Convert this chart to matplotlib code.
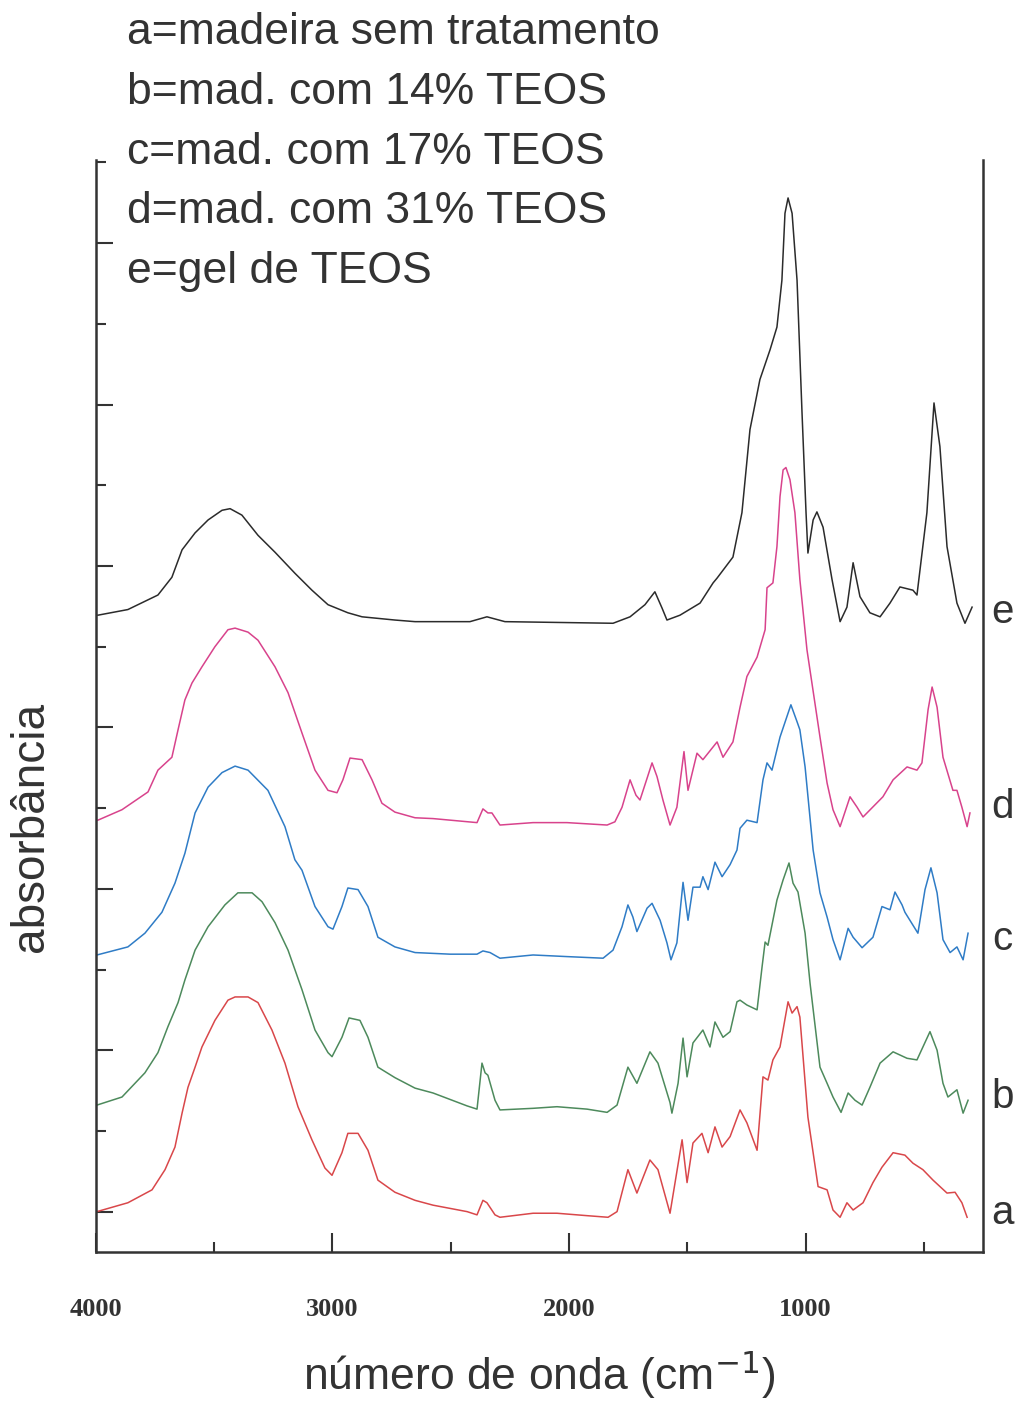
import numpy as np
import matplotlib
matplotlib.use('Agg')
import matplotlib.pyplot as plt
from matplotlib.ticker import FixedLocator
import matplotlib.transforms as mtransforms

# --- espectros FTIR (numero de onda em cm-1, absorbancia deslocada) ---

wn_e = [3992, 3865, 3738, 3679, 3636, 3581, 3526, 3467, 3433, 3383, 3315, 3243, 3159, 3087,
        3019, 2935, 2875, 2736, 2651, 2419, 2347, 2271, 1814, 1742, 1679, 1637, 1607, 1586,
        1531, 1446, 1391, 1374, 1307, 1269, 1235, 1193, 1150, 1121, 1100, 1087, 1074, 1057,
        1036, 1015, 998, 990, 968, 952, 926, 888, 854, 825, 799, 770, 728, 685, 643, 601,
        546, 529, 487, 457, 432, 402, 360, 326, 296]
ab_e = [7.89, 7.96, 8.14, 8.36, 8.70, 8.91, 9.07, 9.19, 9.21, 9.13, 8.88, 8.67, 8.41, 8.20,
        8.02, 7.92, 7.87, 7.83, 7.81, 7.81, 7.87, 7.81, 7.79, 7.87, 8.02, 8.18, 7.98, 7.83,
        7.89, 8.04, 8.29, 8.35, 8.61, 9.16, 10.19, 10.81, 11.18, 11.46, 12.04, 12.87, 13.06, 12.87,
        12.04, 10.40, 9.16, 8.66, 9.07, 9.17, 8.98, 8.33, 7.81, 7.99, 8.54, 8.12, 7.92, 7.87, 8.04, 8.24,
        8.20, 8.14, 9.16, 10.52, 9.98, 8.74, 8.04, 7.79, 7.99]

wn_d = [3992, 3890, 3780, 3738, 3679, 3653, 3624, 3594, 3552, 3497, 3442, 3412, 3357, 3315,
        3243, 3188, 3129, 3074, 3019, 2981, 2956, 2926, 2875, 2833, 2791, 2736, 2651, 2575,
        2389, 2364, 2343, 2326, 2292, 2152, 2009, 1839, 1806, 1776, 1742, 1717, 1700, 1670,
        1649, 1628, 1603, 1573, 1544, 1514, 1497, 1459, 1434, 1374, 1349, 1307, 1277, 1248,
        1205, 1171, 1163, 1138, 1121, 1108, 1095, 1083, 1066, 1045, 1024, 994, 939, 909, 884,
        854, 812, 782, 757, 673, 630, 571, 529, 508, 482, 465, 444, 419, 377, 360, 339, 317, 305]
ab_d = [5.35, 5.48, 5.70, 5.97, 6.13, 6.47, 6.84, 7.05, 7.25, 7.50, 7.71, 7.73, 7.68, 7.58,
        7.25, 6.93, 6.43, 5.97, 5.72, 5.69, 5.85, 6.12, 6.10, 5.85, 5.56, 5.45, 5.38, 5.37,
        5.32, 5.49, 5.44, 5.44, 5.29, 5.32, 5.32, 5.29, 5.33, 5.51, 5.85, 5.66, 5.60, 5.87,
        6.06, 5.89, 5.60, 5.29, 5.51, 6.20, 5.72, 6.18, 6.10, 6.32, 6.13, 6.32, 6.75, 7.13,
        7.37, 7.71, 8.23, 8.29, 8.74, 9.36, 9.69, 9.72, 9.57, 9.16, 8.33, 7.46, 6.38, 5.81, 5.48,
        5.27, 5.64, 5.51, 5.39, 5.64, 5.85, 6.01, 5.97, 6.06, 6.72, 7.00, 6.75, 6.13, 5.72, 5.72, 5.51, 5.27, 5.44]

wn_c = [3996, 3865, 3793, 3721, 3666, 3624, 3581, 3526, 3467, 3412, 3357, 3273, 3201, 3159,
        3129, 3074, 3019, 2998, 2960, 2935, 2892, 2850, 2808, 2736, 2651, 2503, 2389, 2364,
        2334, 2292, 2152, 2009, 1856, 1814, 1776, 1751, 1730, 1713, 1670, 1649, 1615, 1586,
        1569, 1544, 1518, 1497, 1476, 1446, 1434, 1412, 1383, 1353, 1319, 1290, 1277, 1248,
        1205, 1180, 1163, 1142, 1108, 1062, 1036, 1024, 1002, 968, 939, 909, 884, 854, 820,
        799, 761, 715, 677, 643, 622, 592, 580, 525, 495, 470, 444, 419, 389, 360, 334, 313]
ab_c = [3.68, 3.78, 3.95, 4.21, 4.57, 4.94, 5.44, 5.76, 5.94, 6.02, 5.97, 5.72, 5.27, 4.86,
        4.73, 4.28, 4.03, 4.00, 4.28, 4.51, 4.49, 4.28, 3.90, 3.78, 3.71, 3.69, 3.69, 3.73,
        3.71, 3.64, 3.68, 3.66, 3.64, 3.74, 4.03, 4.30, 4.15, 3.97, 4.26, 4.32, 4.11, 3.83,
        3.62, 3.83, 4.58, 4.11, 4.52, 4.52, 4.65, 4.49, 4.83, 4.65, 4.80, 4.98, 5.25, 5.35,
        5.32, 5.85, 6.06, 5.97, 6.38, 6.78, 6.57, 6.47, 6.01, 4.98, 4.45, 4.15, 3.87, 3.62, 4.01,
        3.90, 3.77, 3.90, 4.28, 4.24, 4.46, 4.30, 4.21, 3.95, 4.49, 4.76, 4.45, 3.87, 3.71, 3.78, 3.62, 3.95]

wn_b = [3996, 3890, 3793, 3738, 3696, 3653, 3624, 3581, 3526, 3455, 3400, 3340, 3298, 3243,
        3188, 3129, 3074, 3019, 3002, 2960, 2930, 2884, 2850, 2808, 2736, 2651, 2575, 2431,
        2389, 2368, 2355, 2343, 2313, 2292, 2152, 2051, 1924, 1839, 1797, 1751, 1713, 1658,
        1624, 1573, 1565, 1539, 1518, 1501, 1476, 1434, 1404, 1383, 1349, 1319, 1290, 1277,
        1248, 1205, 1184, 1171, 1159, 1121, 1095, 1070, 1053, 1032, 1002, 981, 939, 909, 884,
        850, 820, 791, 761, 728, 685, 630, 571, 529, 474, 444, 419, 398, 360, 334, 313]
ab_b = [1.82, 1.92, 2.22, 2.47, 2.79, 3.09, 3.37, 3.74, 4.03, 4.30, 4.45, 4.45, 4.34, 4.08,
        3.74, 3.25, 2.75, 2.47, 2.42, 2.66, 2.90, 2.87, 2.66, 2.29, 2.16, 2.03, 1.97, 1.81,
        1.77, 2.34, 2.22, 2.19, 1.88, 1.76, 1.78, 1.80, 1.77, 1.73, 1.82, 2.29, 2.09, 2.48,
        2.34, 1.85, 1.72, 2.09, 2.65, 2.17, 2.59, 2.75, 2.54, 2.85, 2.66, 2.73, 3.10, 3.12,
        3.06, 3.00, 3.53, 3.84, 3.80, 4.36, 4.61, 4.82, 4.57, 4.46, 3.95, 3.33, 2.29, 2.09, 1.92,
        1.73, 1.97, 1.88, 1.82, 2.04, 2.34, 2.48, 2.40, 2.38, 2.73, 2.50, 2.09, 1.92, 2.01, 1.72, 1.88]

wn_a = [3996, 3865, 3763, 3708, 3666, 3636, 3611, 3581, 3552, 3497, 3442, 3412, 3357, 3315,
        3256, 3201, 3146, 3087, 3032, 3002, 2960, 2935, 2892, 2850, 2808, 2736, 2651, 2575,
        2431, 2389, 2364, 2347, 2313, 2292, 2152, 2051, 1924, 1835, 1797, 1751, 1713, 1658,
        1624, 1573, 1522, 1501, 1476, 1438, 1412, 1383, 1353, 1319, 1277, 1248, 1205, 1180,
        1159, 1138, 1108, 1074, 1057, 1036, 1024, 990, 947, 909, 884, 854, 825, 799, 757,
        715, 677, 630, 580, 546, 504, 461, 402, 368, 339, 317]
ab_a = [0.50, 0.61, 0.77, 1.02, 1.30, 1.72, 2.04, 2.29, 2.54, 2.87, 3.12, 3.16, 3.16, 3.09,
        2.75, 2.34, 1.80, 1.39, 1.04, 0.95, 1.23, 1.47, 1.47, 1.26, 0.89, 0.74, 0.64, 0.58,
        0.50, 0.46, 0.64, 0.61, 0.46, 0.43, 0.48, 0.48, 0.45, 0.43, 0.50, 1.02, 0.73, 1.14,
        1.02, 0.48, 1.39, 0.86, 1.35, 1.47, 1.23, 1.55, 1.30, 1.43, 1.76, 1.60, 1.26, 2.17,
        2.13, 2.38, 2.54, 3.10, 2.96, 3.04, 2.91, 1.67, 0.81, 0.77, 0.52, 0.43, 0.61, 0.52, 0.61,
        0.86, 1.05, 1.23, 1.20, 1.10, 1.02, 0.89, 0.73, 0.74, 0.61, 0.43]

series = [('a', wn_a, ab_a, '#d9474a'),
          ('b', wn_b, ab_b, '#4d8a5c'),
          ('c', wn_c, ab_c, '#2f7cc6'),
          ('d', wn_d, ab_d, '#d8438c'),
          ('e', wn_e, ab_e, '#2b2b2b')]

# posicao vertical das letras de identificacao, lado direito
label_y = {'a': 0.48, 'b': 1.92, 'c': 3.88, 'd': 5.51, 'e': 7.93}

legend_lines = ['a=madeira sem tratamento',
                'b=mad. com 14% TEOS',
                'c=mad. com 17% TEOS',
                'd=mad. com 31% TEOS',
                'e=gel de TEOS']

# ------------------------------------------------

sans = 'Liberation Sans'
ink = '#333333'

fig = plt.figure(figsize=(10.22, 14.11), dpi=100)
ax = fig.add_axes([0.0939, 0.1127, 0.8679, 0.7739])

for name, wn, ab, col in series:
    ax.plot(wn, ab, color=col, linewidth=1.1)

ax.set_xlim(4000, 250)
ax.set_ylim(0, 13.53)

for side in ('left', 'bottom', 'right'):
    ax.spines[side].set_linewidth(1.8)
    ax.spines[side].set_color(ink)
ax.spines['top'].set_visible(False)

ax.xaxis.set_major_locator(FixedLocator([4000, 3000, 2000, 1000]))
ax.xaxis.set_minor_locator(FixedLocator([3500, 2500, 1500, 500]))
ax.yaxis.set_major_locator(FixedLocator(np.arange(0.5, 13.0, 2.0)))
ax.yaxis.set_minor_locator(FixedLocator(np.arange(1.5, 14.0, 2.0)))

ax.tick_params(axis='x', which='major', direction='in', length=14, width=1.5, color=ink, pad=33)
ax.tick_params(axis='x', which='minor', direction='in', length=7, width=1.5, color=ink)
ax.tick_params(axis='y', which='major', direction='in', length=12, width=1.5, color=ink,
               labelleft=False)
ax.tick_params(axis='y', which='minor', direction='in', length=7, width=1.5, color=ink)

ax.set_xticklabels(['4000', '3000', '2000', '1000'],
                   fontfamily='Liberation Serif', fontweight='bold', fontsize=19, color=ink)

ax.set_xlabel('número de onda (cm$^{-1}$)', fontfamily=sans, fontsize=32, color=ink, labelpad=20)
ax.set_ylabel('absorbância', fontfamily=sans, fontsize=33, color=ink)
ax.yaxis.set_label_coords(-0.049, 0.389)

trans = mtransforms.blended_transform_factory(ax.transAxes, ax.transData)
for name, wn, ab, col in series:
    ax.text(1.022, label_y[name], name, transform=trans, ha='center', va='center',
            fontfamily=sans, fontsize=29, color=ink)

for i, line in enumerate(legend_lines):
    fig.text(0.124, 1 - (33 + i * 59.5) / 1411, line, ha='left', va='center',
             fontfamily=sans, fontsize=32, color=ink)

fig.savefig('out.png', dpi=100, facecolor='white')
